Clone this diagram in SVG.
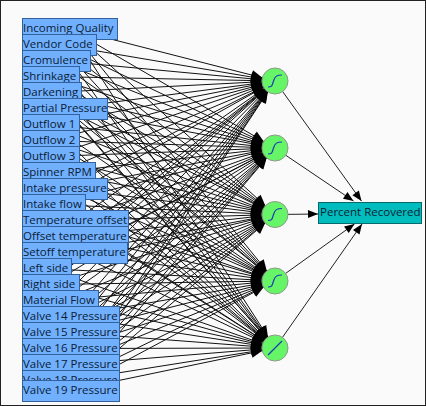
<svg xmlns="http://www.w3.org/2000/svg" width="426" height="406" viewBox="0 0 426 406">
<style>
.bg{fill:#fafafa;stroke:#222;stroke-width:1}
#connectors line{stroke:#111;stroke-width:1;marker-end:url(#a)}
#connectors g.out line{stroke:#222;stroke-width:1;marker-end:url(#b)}
.in rect{fill:#70b0ff;stroke:#33629a;stroke-width:1}
text{font-family:"Open Sans","Noto Sans",sans-serif;font-size:11.5px;fill:#0c1c34}
.n circle{fill:#66f566;stroke:#8a9a8a;stroke-width:1}
.curve{fill:none;stroke:#1c3cb4;stroke-width:1.2}
#target rect{fill:#00bcbc;stroke:#056a6a;stroke-width:1}
</style>
<defs>
<marker id="a" markerUnits="userSpaceOnUse" markerWidth="40" markerHeight="16" refX="24" refY="8" orient="auto" overflow="visible"><path d="M0,3L11,8L0,13z" fill="#000"/></marker>
<marker id="b" markerUnits="userSpaceOnUse" markerWidth="12" markerHeight="12" refX="10" refY="6" orient="auto" overflow="visible"><path d="M0,2L10,6L0,10z" fill="#000"/></marker>
<path id="s" class="curve" d="M-7,6C-3,6-3,5-1.5,0S2,-6,7,-6"/>
</defs>
<rect class="bg" x="0.5" y="0.5" width="425" height="405"/>
<g id="connectors">
<line x1="69.500" y1="28.500" x2="275" y2="81"/><line x1="69.500" y1="28.500" x2="275" y2="148"/><line x1="69.500" y1="28.500" x2="275" y2="214.500"/><line x1="69.500" y1="28.500" x2="275" y2="281"/><line x1="69.500" y1="28.500" x2="275" y2="348"/>
<line x1="59" y1="44.500" x2="275" y2="81"/><line x1="59" y1="44.500" x2="275" y2="148"/><line x1="59" y1="44.500" x2="275" y2="214.500"/><line x1="59" y1="44.500" x2="275" y2="281"/><line x1="59" y1="44.500" x2="275" y2="348"/>
<line x1="56" y1="60.500" x2="275" y2="81"/><line x1="56" y1="60.500" x2="275" y2="148"/><line x1="56" y1="60.500" x2="275" y2="214.500"/><line x1="56" y1="60.500" x2="275" y2="281"/><line x1="56" y1="60.500" x2="275" y2="348"/>
<line x1="50.500" y1="76.500" x2="275" y2="81"/><line x1="50.500" y1="76.500" x2="275" y2="148"/><line x1="50.500" y1="76.500" x2="275" y2="214.500"/><line x1="50.500" y1="76.500" x2="275" y2="281"/><line x1="50.500" y1="76.500" x2="275" y2="348"/>
<line x1="51.500" y1="92.500" x2="275" y2="81"/><line x1="51.500" y1="92.500" x2="275" y2="148"/><line x1="51.500" y1="92.500" x2="275" y2="214.500"/><line x1="51.500" y1="92.500" x2="275" y2="281"/><line x1="51.500" y1="92.500" x2="275" y2="348"/>
<line x1="64.500" y1="108.500" x2="275" y2="81"/><line x1="64.500" y1="108.500" x2="275" y2="148"/><line x1="64.500" y1="108.500" x2="275" y2="214.500"/><line x1="64.500" y1="108.500" x2="275" y2="281"/><line x1="64.500" y1="108.500" x2="275" y2="348"/>
<line x1="50.500" y1="124.500" x2="275" y2="81"/><line x1="50.500" y1="124.500" x2="275" y2="148"/><line x1="50.500" y1="124.500" x2="275" y2="214.500"/><line x1="50.500" y1="124.500" x2="275" y2="281"/><line x1="50.500" y1="124.500" x2="275" y2="348"/>
<line x1="50.500" y1="140.500" x2="275" y2="81"/><line x1="50.500" y1="140.500" x2="275" y2="148"/><line x1="50.500" y1="140.500" x2="275" y2="214.500"/><line x1="50.500" y1="140.500" x2="275" y2="281"/><line x1="50.500" y1="140.500" x2="275" y2="348"/>
<line x1="50.500" y1="156.500" x2="275" y2="81"/><line x1="50.500" y1="156.500" x2="275" y2="148"/><line x1="50.500" y1="156.500" x2="275" y2="214.500"/><line x1="50.500" y1="156.500" x2="275" y2="281"/><line x1="50.500" y1="156.500" x2="275" y2="348"/>
<line x1="58.500" y1="172.500" x2="275" y2="81"/><line x1="58.500" y1="172.500" x2="275" y2="148"/><line x1="58.500" y1="172.500" x2="275" y2="214.500"/><line x1="58.500" y1="172.500" x2="275" y2="281"/><line x1="58.500" y1="172.500" x2="275" y2="348"/>
<line x1="64.500" y1="188.500" x2="275" y2="81"/><line x1="64.500" y1="188.500" x2="275" y2="148"/><line x1="64.500" y1="188.500" x2="275" y2="214.500"/><line x1="64.500" y1="188.500" x2="275" y2="281"/><line x1="64.500" y1="188.500" x2="275" y2="348"/>
<line x1="53.500" y1="204.500" x2="275" y2="81"/><line x1="53.500" y1="204.500" x2="275" y2="148"/><line x1="53.500" y1="204.500" x2="275" y2="214.500"/><line x1="53.500" y1="204.500" x2="275" y2="281"/><line x1="53.500" y1="204.500" x2="275" y2="348"/>
<line x1="75" y1="220.500" x2="275" y2="81"/><line x1="75" y1="220.500" x2="275" y2="148"/><line x1="75" y1="220.500" x2="275" y2="214.500"/><line x1="75" y1="220.500" x2="275" y2="281"/><line x1="75" y1="220.500" x2="275" y2="348"/>
<line x1="75" y1="236.500" x2="275" y2="81"/><line x1="75" y1="236.500" x2="275" y2="148"/><line x1="75" y1="236.500" x2="275" y2="214.500"/><line x1="75" y1="236.500" x2="275" y2="281"/><line x1="75" y1="236.500" x2="275" y2="348"/>
<line x1="74.500" y1="252.500" x2="275" y2="81"/><line x1="74.500" y1="252.500" x2="275" y2="148"/><line x1="74.500" y1="252.500" x2="275" y2="214.500"/><line x1="74.500" y1="252.500" x2="275" y2="281"/><line x1="74.500" y1="252.500" x2="275" y2="348"/>
<line x1="46.500" y1="268.500" x2="275" y2="81"/><line x1="46.500" y1="268.500" x2="275" y2="148"/><line x1="46.500" y1="268.500" x2="275" y2="214.500"/><line x1="46.500" y1="268.500" x2="275" y2="281"/><line x1="46.500" y1="268.500" x2="275" y2="348"/>
<line x1="50.500" y1="284.500" x2="275" y2="81"/><line x1="50.500" y1="284.500" x2="275" y2="148"/><line x1="50.500" y1="284.500" x2="275" y2="214.500"/><line x1="50.500" y1="284.500" x2="275" y2="281"/><line x1="50.500" y1="284.500" x2="275" y2="348"/>
<line x1="60" y1="300.500" x2="275" y2="81"/><line x1="60" y1="300.500" x2="275" y2="148"/><line x1="60" y1="300.500" x2="275" y2="214.500"/><line x1="60" y1="300.500" x2="275" y2="281"/><line x1="60" y1="300.500" x2="275" y2="348"/>
<line x1="70.500" y1="316.500" x2="275" y2="81"/><line x1="70.500" y1="316.500" x2="275" y2="148"/><line x1="70.500" y1="316.500" x2="275" y2="214.500"/><line x1="70.500" y1="316.500" x2="275" y2="281"/><line x1="70.500" y1="316.500" x2="275" y2="348"/>
<line x1="70.500" y1="332.500" x2="275" y2="81"/><line x1="70.500" y1="332.500" x2="275" y2="148"/><line x1="70.500" y1="332.500" x2="275" y2="214.500"/><line x1="70.500" y1="332.500" x2="275" y2="281"/><line x1="70.500" y1="332.500" x2="275" y2="348"/>
<line x1="70.500" y1="348.500" x2="275" y2="81"/><line x1="70.500" y1="348.500" x2="275" y2="148"/><line x1="70.500" y1="348.500" x2="275" y2="214.500"/><line x1="70.500" y1="348.500" x2="275" y2="281"/><line x1="70.500" y1="348.500" x2="275" y2="348"/>
<line x1="70.500" y1="364.500" x2="275" y2="81"/><line x1="70.500" y1="364.500" x2="275" y2="148"/><line x1="70.500" y1="364.500" x2="275" y2="214.500"/><line x1="70.500" y1="364.500" x2="275" y2="281"/><line x1="70.500" y1="364.500" x2="275" y2="348"/>
<line x1="70.500" y1="380.500" x2="275" y2="81"/><line x1="70.500" y1="380.500" x2="275" y2="148"/><line x1="70.500" y1="380.500" x2="275" y2="214.500"/><line x1="70.500" y1="380.500" x2="275" y2="281"/><line x1="70.500" y1="380.500" x2="275" y2="348"/>
<line x1="70.500" y1="390.500" x2="275" y2="81"/><line x1="70.500" y1="390.500" x2="275" y2="148"/><line x1="70.500" y1="390.500" x2="275" y2="214.500"/><line x1="70.500" y1="390.500" x2="275" y2="281"/><line x1="70.500" y1="390.500" x2="275" y2="348"/>
<g class="out">
<line x1="275" y1="81" x2="361.500" y2="201"/><line x1="275" y1="148" x2="353.500" y2="201"/><line x1="275" y1="214.500" x2="318" y2="214"/><line x1="275" y1="281" x2="354.500" y2="224"/><line x1="275" y1="348" x2="362" y2="224"/>
</g>
</g>
<g id="n0" class="in"><rect x="22.500" y="18.500" width="95" height="21"/><text x="23" y="32">Incoming Quality</text></g>
<g id="n1" class="in"><rect x="22.500" y="34.500" width="74" height="21"/><text x="23" y="48">Vendor Code</text></g>
<g id="n2" class="in"><rect x="22.500" y="50.500" width="68" height="21"/><text x="23" y="64">Cromulence</text></g>
<g id="n3" class="in"><rect x="22.500" y="66.500" width="57" height="21"/><text x="23" y="80">Shrinkage</text></g>
<g id="n4" class="in"><rect x="22.500" y="82.500" width="59" height="21"/><text x="23" y="96">Darkening</text></g>
<g id="n5" class="in"><rect x="22.500" y="98.500" width="85" height="21"/><text x="23" y="112">Partial Pressure</text></g>
<g id="n6" class="in"><rect x="22.500" y="114.500" width="57" height="21"/><text x="23" y="128">Outflow 1</text></g>
<g id="n7" class="in"><rect x="22.500" y="130.500" width="57" height="21"/><text x="23" y="144">Outflow 2</text></g>
<g id="n8" class="in"><rect x="22.500" y="146.500" width="57" height="21"/><text x="23" y="160">Outflow 3</text></g>
<g id="n9" class="in"><rect x="22.500" y="162.500" width="73" height="21"/><text x="23" y="176">Spinner RPM</text></g>
<g id="n10" class="in"><rect x="22.500" y="178.500" width="85" height="21"/><text x="23" y="192">Intake pressure</text></g>
<g id="n11" class="in"><rect x="22.500" y="194.500" width="63" height="21"/><text x="23" y="208">Intake flow</text></g>
<g id="n12" class="in"><rect x="22.500" y="210.500" width="106" height="21"/><text x="23" y="224">Temperature offset</text></g>
<g id="n13" class="in"><rect x="22.500" y="226.500" width="106" height="21"/><text x="23" y="240">Offset temperature</text></g>
<g id="n14" class="in"><rect x="22.500" y="242.500" width="105" height="21"/><text x="23" y="256">Setoff temperature</text></g>
<g id="n15" class="in"><rect x="22.500" y="258.500" width="49" height="21"/><text x="23" y="272">Left side</text></g>
<g id="n16" class="in"><rect x="22.500" y="274.500" width="57" height="21"/><text x="23" y="288">Right side</text></g>
<g id="n17" class="in"><rect x="22.500" y="290.500" width="76" height="21"/><text x="23" y="304">Material Flow</text></g>
<g id="n18" class="in"><rect x="22.500" y="306.500" width="97" height="21"/><text x="23" y="320">Valve 14 Pressure</text></g>
<g id="n19" class="in"><rect x="22.500" y="322.500" width="97" height="21"/><text x="23" y="336">Valve 15 Pressure</text></g>
<g id="n20" class="in"><rect x="22.500" y="338.500" width="97" height="21"/><text x="23" y="352">Valve 16 Pressure</text></g>
<g id="n21" class="in"><rect x="22.500" y="354.500" width="97" height="21"/><text x="23" y="368">Valve 17 Pressure</text></g>
<g id="n22" class="in"><rect x="22.500" y="370.500" width="97" height="21"/><text x="23" y="384">Valve 18 Pressure</text></g>
<g id="n23" class="in"><rect x="22.500" y="380.500" width="97" height="21"/><text x="23" y="394">Valve 19 Pressure</text></g>
<g id="h1" class="n" transform="translate(275,81)"><circle r="13"/><use href="#s"/></g>
<g id="h2" class="n" transform="translate(275,148)"><circle r="13"/><use href="#s"/></g>
<g id="h3" class="n" transform="translate(275,214.500)"><circle r="13"/><use href="#s"/></g>
<g id="h4" class="n" transform="translate(275,281)"><circle r="13"/><use href="#s"/></g>
<g id="h5" class="n" transform="translate(275,348)"><circle r="13"/><path class="curve" d="M-7,7L7,-7"/></g>
<g id="target"><rect x="318.500" y="202.500" width="103" height="21"/><text x="320" y="216">Percent Recovered</text></g>
</svg>
